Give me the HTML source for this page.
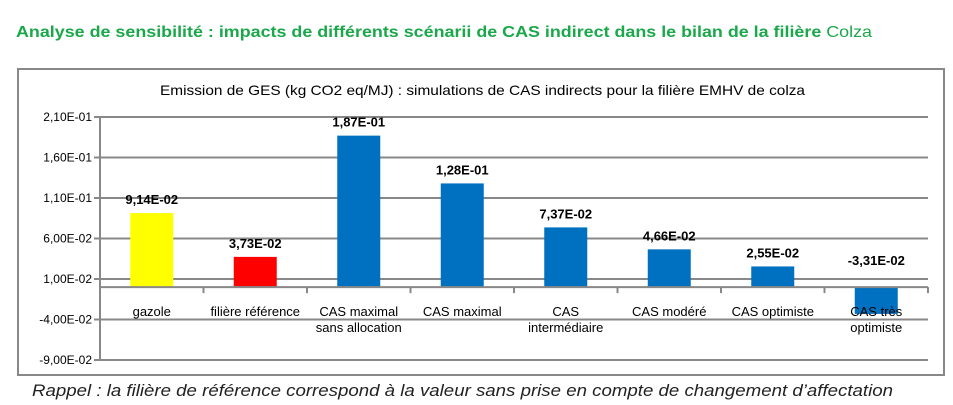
<!DOCTYPE html>
<html><head><meta charset="utf-8"><style>
body{margin:0;background:#fff;width:953px;height:405px;overflow:hidden;font-family:"Liberation Sans",sans-serif}
</style></head><body>
<svg width="953" height="405" style="position:absolute;left:0;top:0">
<text x="16" y="37" font-size="16" font-weight="bold" fill="#1aa84a" textLength="856" lengthAdjust="spacingAndGlyphs">Analyse de sensibilité : impacts de différents scénarii de CAS indirect dans le bilan de la filière <tspan font-weight="normal">Colza</tspan></text>
<rect x="18" y="69" width="926" height="306" fill="#fff" stroke="#888" stroke-width="2"/>
<text x="160" y="95" font-size="14" fill="#000" textLength="645" lengthAdjust="spacingAndGlyphs">Emission de GES (kg CO2 eq/MJ) : simulations de CAS indirects pour la filière EMHV de colza</text>
<g id="grid"></g><g id="bars"></g><g id="axes"></g>
<text x="32" y="396" font-size="17" font-style="italic" fill="#222" textLength="861" lengthAdjust="spacingAndGlyphs">Rappel : la filière de référence correspond à la valeur sans prise en compte de changement d’affectation</text>
</svg>
<script>
const categories=[["gazole"],["filière référence"],["CAS maximal","sans allocation"],["CAS maximal"],["CAS","intermédiaire"],["CAS modéré"],["CAS optimiste"],["CAS très","optimiste"]];
const values=[0.0914,0.0373,0.187,0.128,0.0737,0.0466,0.0255,-0.0331];
const valueLabels=["9,14E-02","3,73E-02","1,87E-01","1,28E-01","7,37E-02","4,66E-02","2,55E-02","-3,31E-02"];
const tickValues=[0.21,0.16,0.11,0.06,0.01,-0.04,-0.09];
const tickLabels=["2,10E-01","1,60E-01","1,10E-01","6,00E-02","1,00E-02","-4,00E-02","-9,00E-02"];
const colors=["#ffff00","#ff0000","#0070c0","#0070c0","#0070c0","#0070c0","#0070c0","#0070c0"];
const NS="http://www.w3.org/2000/svg";
const x0=100,x1=928,cw=(x1-x0)/categories.length;
const y=v=>117+(0.21-v)/0.05*40.5;
function mk(t,a,p){const e=document.createElementNS(NS,t);for(const k in a)e.setAttribute(k,a[k]);p.appendChild(e);return e;}
const G=document.getElementById('grid'),B=document.getElementById('bars'),A=document.getElementById('axes');
tickValues.forEach((v,i)=>{
const l=mk('line',{x1:x0-6,x2:x1,y1:y(v),y2:y(v),stroke:'#888','stroke-width':2},G);


const t=mk('text',{x:x0-8,y:y(v)+4,'font-size':12,'text-anchor':'end',fill:'#000'},A);
t.textContent=tickLabels[i];


});
values.forEach((v,i)=>{
const cx=x0+cw*(i+0.5),top=Math.min(y(v),y(0)),h=Math.abs(y(v)-y(0));
const r=mk('rect',{x:cx-21.5,y:top,width:43,height:h,fill:colors[i]},B);


const t=mk('text',{x:cx,y:Math.min(y(v),y(0))-(v<0?22:9),'font-size':13,'font-weight':'bold','text-anchor':'middle',fill:'#000'},A);
t.textContent=valueLabels[i];


categories[i].forEach((s,j)=>{
const c=mk('text',{x:cx,y:316+j*16,'font-size':13,'text-anchor':'middle',fill:'#000'},A);
c.textContent=s;


});
});
const ax=mk('line',{x1:x0,x2:x1,y1:y(0),y2:y(0),stroke:'#888','stroke-width':2},A);


for(let i=0;i<=categories.length;i++){const tk=mk('line',{x1:x0+cw*i,x2:x0+cw*i,y1:y(0),y2:y(0)+6,stroke:'#888','stroke-width':2},A);

}
const ya=mk('line',{x1:x0,x2:x0,y1:y(0.21),y2:y(-0.09),stroke:'#888','stroke-width':2},A);


</script>
</body></html>
